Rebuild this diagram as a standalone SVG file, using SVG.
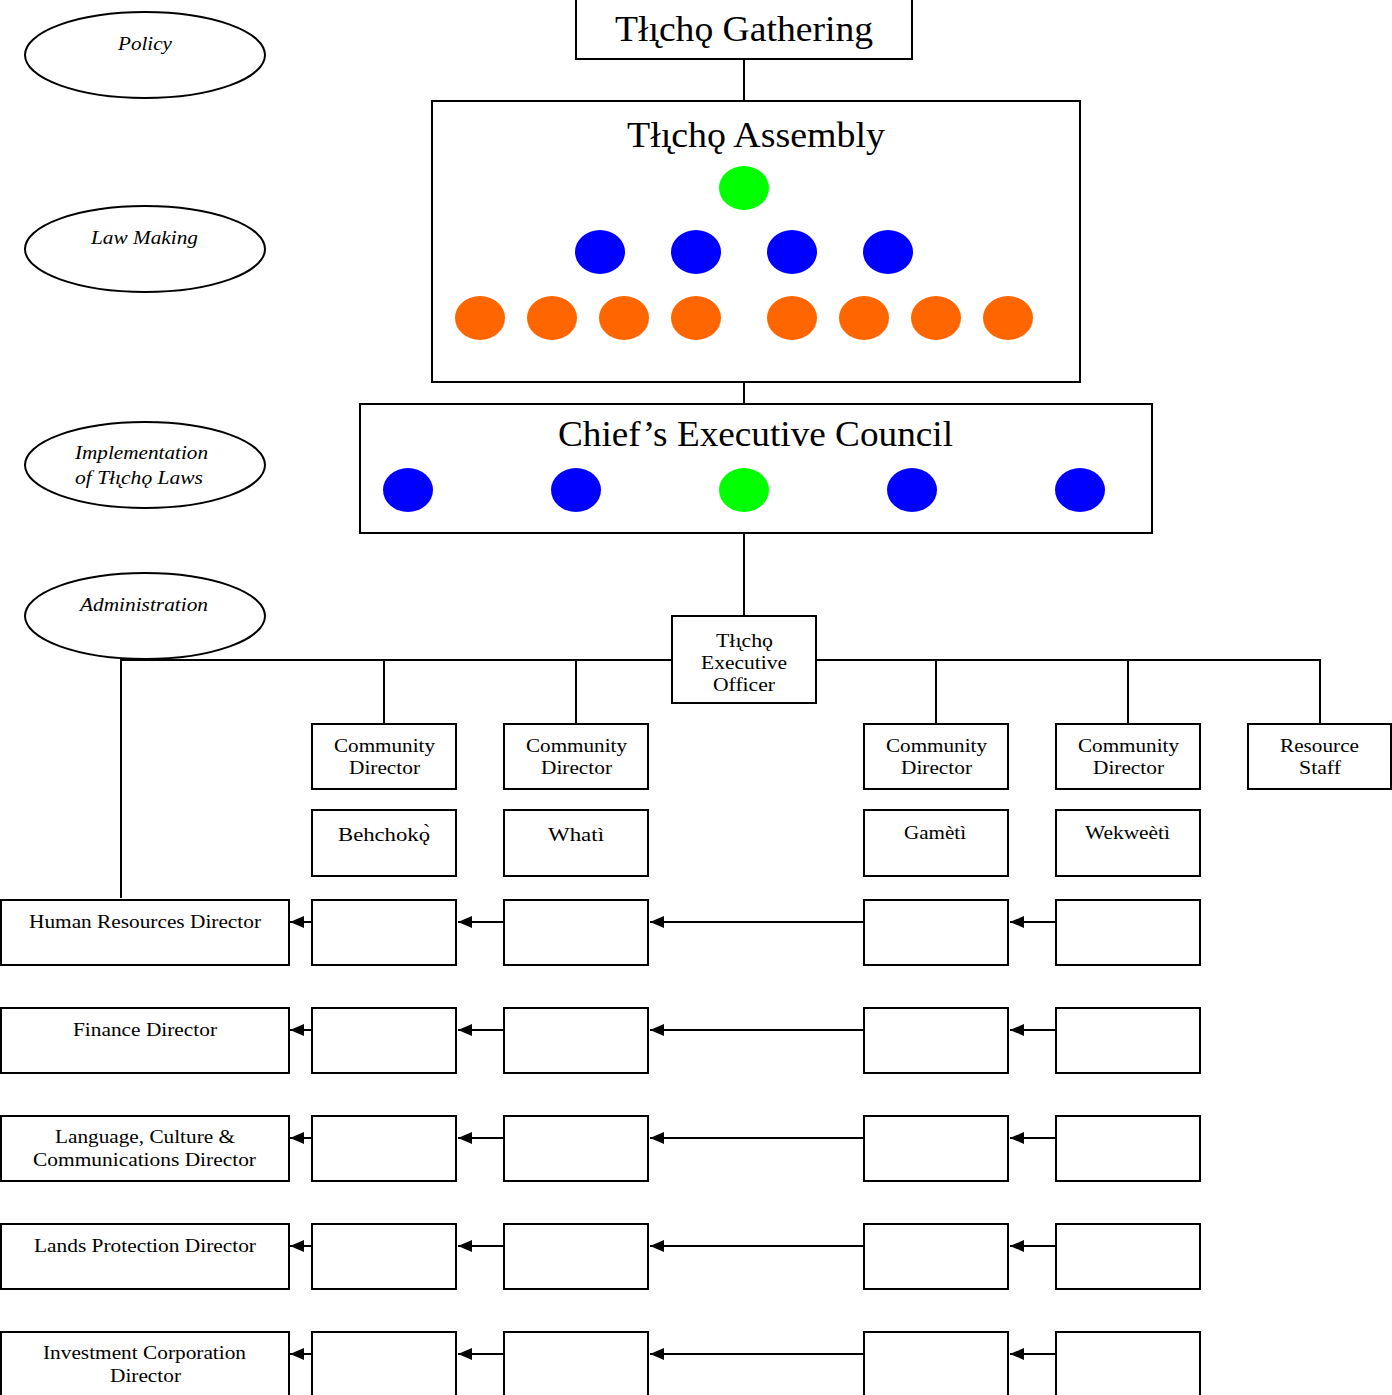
<svg xmlns="http://www.w3.org/2000/svg" width="1392" height="1395" viewBox="0 0 1392 1395">
<style>
.box{fill:#fff;stroke:#000;stroke-width:2}
.ell{fill:#fff;stroke:#000;stroke-width:2}
.ln{stroke:#000;stroke-width:2;fill:none}
.t{font-family:"Liberation Serif","Times New Roman",serif;fill:#000;text-anchor:middle}
.big{font-size:35px}
.s{font-size:18px}
.i{font-size:18px;font-style:italic}
.g{fill:#00ff00}
.b{fill:#0000ff}
.o{fill:#ff6600}
</style>
<defs>
<marker id="ah" markerWidth="14" markerHeight="12" refX="14" refY="6" orient="auto" markerUnits="userSpaceOnUse">
<path d="M0,0 L14,6 L0,12 Z" fill="#000"/>
</marker>
</defs>
<rect width="1392" height="1395" fill="#fff"/>
<g id="connectors">
<path class="ln" d="M744,59 V101 M744,382 V404 M744,533 V616"/>
<path class="ln" d="M121,898 V660 H672 M816,660 H1320 V724 M384,660 V724 M576,660 V724 M936,660 V724 M1128,660 V724"/>
<g marker-end="url(#ah)" class="ln">
<line x1="312" y1="922" x2="290" y2="922"/><line x1="504" y1="922" x2="458" y2="922"/><line x1="864" y1="922" x2="650" y2="922"/><line x1="1056" y1="922" x2="1010" y2="922"/>
<line x1="312" y1="1030" x2="290" y2="1030"/><line x1="504" y1="1030" x2="458" y2="1030"/><line x1="864" y1="1030" x2="650" y2="1030"/><line x1="1056" y1="1030" x2="1010" y2="1030"/>
<line x1="312" y1="1138" x2="290" y2="1138"/><line x1="504" y1="1138" x2="458" y2="1138"/><line x1="864" y1="1138" x2="650" y2="1138"/><line x1="1056" y1="1138" x2="1010" y2="1138"/>
<line x1="312" y1="1246" x2="290" y2="1246"/><line x1="504" y1="1246" x2="458" y2="1246"/><line x1="864" y1="1246" x2="650" y2="1246"/><line x1="1056" y1="1246" x2="1010" y2="1246"/>
<line x1="312" y1="1354" x2="290" y2="1354"/><line x1="504" y1="1354" x2="458" y2="1354"/><line x1="864" y1="1354" x2="650" y2="1354"/><line x1="1056" y1="1354" x2="1010" y2="1354"/>
</g>
</g>
<g id="ell-policy"><ellipse class="ell" cx="145" cy="55" rx="120" ry="43"/><text class="t i" x="145" y="50" textLength="54" lengthAdjust="spacingAndGlyphs">Policy</text></g>
<g id="ell-law"><ellipse class="ell" cx="145" cy="249" rx="120" ry="43"/><text class="t i" x="144.5" y="244" textLength="107" lengthAdjust="spacingAndGlyphs">Law Making</text></g>
<g id="ell-impl"><ellipse class="ell" cx="145" cy="465" rx="120" ry="43"/><text class="t i" x="141.5" y="459" textLength="133" lengthAdjust="spacingAndGlyphs">Implementation</text><text class="t i" x="139" y="484" textLength="128" lengthAdjust="spacingAndGlyphs">of Tłı̨chǫ Laws</text></g>
<g id="ell-admin"><ellipse class="ell" cx="145" cy="616" rx="120" ry="43"/><text class="t i" x="144" y="611" textLength="128" lengthAdjust="spacingAndGlyphs">Administration</text></g>
<g id="gathering"><rect class="box" x="576" y="-1" width="336" height="60"/><text class="t big" x="744" y="41" textLength="258" lengthAdjust="spacingAndGlyphs">Tłı̨chǫ Gathering</text></g>
<g id="assembly"><rect class="box" x="432" y="101" width="648" height="281"/><text class="t big" x="756" y="147" textLength="258" lengthAdjust="spacingAndGlyphs">Tłı̨chǫ Assembly</text>
<ellipse class="g" cx="744" cy="188" rx="25" ry="22"/>
<ellipse class="b" cx="600" cy="252" rx="25" ry="22"/><ellipse class="b" cx="696" cy="252" rx="25" ry="22"/><ellipse class="b" cx="792" cy="252" rx="25" ry="22"/><ellipse class="b" cx="888" cy="252" rx="25" ry="22"/>
<ellipse class="o" cx="480" cy="318" rx="25" ry="22"/><ellipse class="o" cx="552" cy="318" rx="25" ry="22"/><ellipse class="o" cx="624" cy="318" rx="25" ry="22"/><ellipse class="o" cx="696" cy="318" rx="25" ry="22"/><ellipse class="o" cx="792" cy="318" rx="25" ry="22"/><ellipse class="o" cx="864" cy="318" rx="25" ry="22"/><ellipse class="o" cx="936" cy="318" rx="25" ry="22"/><ellipse class="o" cx="1008" cy="318" rx="25" ry="22"/>
</g>
<g id="cec"><rect class="box" x="360" y="404" width="792" height="129"/><text class="t big" x="755.5" y="446" textLength="395" lengthAdjust="spacingAndGlyphs">Chief’s Executive Council</text>
<ellipse class="b" cx="408" cy="490" rx="25" ry="22"/><ellipse class="b" cx="576" cy="490" rx="25" ry="22"/><ellipse class="g" cx="744" cy="490" rx="25" ry="22"/><ellipse class="b" cx="912" cy="490" rx="25" ry="22"/><ellipse class="b" cx="1080" cy="490" rx="25" ry="22"/>
</g>
<g id="teo"><rect class="box" x="672" y="616" width="144" height="87"/><text class="t s" x="744.5" y="647" textLength="57" lengthAdjust="spacingAndGlyphs">Tłı̨chǫ</text><text class="t s" x="744" y="669" textLength="86" lengthAdjust="spacingAndGlyphs">Executive</text><text class="t s" x="744" y="691" textLength="62" lengthAdjust="spacingAndGlyphs">Officer</text></g>
<g id="cd1"><rect class="box" x="312" y="724" width="144" height="65"/><text class="t s" x="384.5" y="752" textLength="101" lengthAdjust="spacingAndGlyphs">Community</text><text class="t s" x="384.5" y="774" textLength="71" lengthAdjust="spacingAndGlyphs">Director</text></g>
<g id="cd2"><rect class="box" x="504" y="724" width="144" height="65"/><text class="t s" x="576.5" y="752" textLength="101" lengthAdjust="spacingAndGlyphs">Community</text><text class="t s" x="576.5" y="774" textLength="71" lengthAdjust="spacingAndGlyphs">Director</text></g>
<g id="cd3"><rect class="box" x="864" y="724" width="144" height="65"/><text class="t s" x="936.5" y="752" textLength="101" lengthAdjust="spacingAndGlyphs">Community</text><text class="t s" x="936.5" y="774" textLength="71" lengthAdjust="spacingAndGlyphs">Director</text></g>
<g id="cd4"><rect class="box" x="1056" y="724" width="144" height="65"/><text class="t s" x="1128.5" y="752" textLength="101" lengthAdjust="spacingAndGlyphs">Community</text><text class="t s" x="1128.5" y="774" textLength="71" lengthAdjust="spacingAndGlyphs">Director</text></g>
<g id="rs"><rect class="box" x="1248" y="724" width="143" height="65"/><text class="t s" x="1319.5" y="752" textLength="79" lengthAdjust="spacingAndGlyphs">Resource</text><text class="t s" x="1320" y="774" textLength="42" lengthAdjust="spacingAndGlyphs">Staff</text></g>
<g id="n1"><rect class="box" x="312" y="810" width="144" height="66"/><text class="t s" x="384" y="841" textLength="92" lengthAdjust="spacingAndGlyphs">Behchokǫ̀</text></g>
<g id="n2"><rect class="box" x="504" y="810" width="144" height="66"/><text class="t s" x="576" y="841" textLength="56" lengthAdjust="spacingAndGlyphs">Whatì</text></g>
<g id="n3"><rect class="box" x="864" y="810" width="144" height="66"/><text class="t s" x="935" y="839" textLength="62" lengthAdjust="spacingAndGlyphs">Gamètì</text></g>
<g id="n4"><rect class="box" x="1056" y="810" width="144" height="66"/><text class="t s" x="1127.5" y="839" textLength="85" lengthAdjust="spacingAndGlyphs">Wekweètì</text></g>
<g id="hr"><rect class="box" x="1" y="900" width="288" height="65"/><text class="t s" x="145" y="928" textLength="232" lengthAdjust="spacingAndGlyphs">Human Resources Director</text>
<rect class="box" x="312" y="900" width="144" height="65"/><rect class="box" x="504" y="900" width="144" height="65"/><rect class="box" x="864" y="900" width="144" height="65"/><rect class="box" x="1056" y="900" width="144" height="65"/></g>
<g id="fin"><rect class="box" x="1" y="1008" width="288" height="65"/><text class="t s" x="145" y="1036" textLength="144" lengthAdjust="spacingAndGlyphs">Finance Director</text>
<rect class="box" x="312" y="1008" width="144" height="65"/><rect class="box" x="504" y="1008" width="144" height="65"/><rect class="box" x="864" y="1008" width="144" height="65"/><rect class="box" x="1056" y="1008" width="144" height="65"/></g>
<g id="lcc"><rect class="box" x="1" y="1116" width="288" height="65"/><text class="t s" x="145" y="1143" textLength="180" lengthAdjust="spacingAndGlyphs">Language, Culture &amp;</text><text class="t s" x="144.5" y="1166" textLength="223" lengthAdjust="spacingAndGlyphs">Communications Director</text>
<rect class="box" x="312" y="1116" width="144" height="65"/><rect class="box" x="504" y="1116" width="144" height="65"/><rect class="box" x="864" y="1116" width="144" height="65"/><rect class="box" x="1056" y="1116" width="144" height="65"/></g>
<g id="lpd"><rect class="box" x="1" y="1224" width="288" height="65"/><text class="t s" x="145" y="1252" textLength="222" lengthAdjust="spacingAndGlyphs">Lands Protection Director</text>
<rect class="box" x="312" y="1224" width="144" height="65"/><rect class="box" x="504" y="1224" width="144" height="65"/><rect class="box" x="864" y="1224" width="144" height="65"/><rect class="box" x="1056" y="1224" width="144" height="65"/></g>
<g id="icd"><rect class="box" x="1" y="1332" width="288" height="70"/><text class="t s" x="144.5" y="1359" textLength="203" lengthAdjust="spacingAndGlyphs">Investment Corporation</text><text class="t s" x="145.5" y="1382" textLength="71" lengthAdjust="spacingAndGlyphs">Director</text>
<rect class="box" x="312" y="1332" width="144" height="70"/><rect class="box" x="504" y="1332" width="144" height="70"/><rect class="box" x="864" y="1332" width="144" height="70"/><rect class="box" x="1056" y="1332" width="144" height="70"/></g>
</svg>
